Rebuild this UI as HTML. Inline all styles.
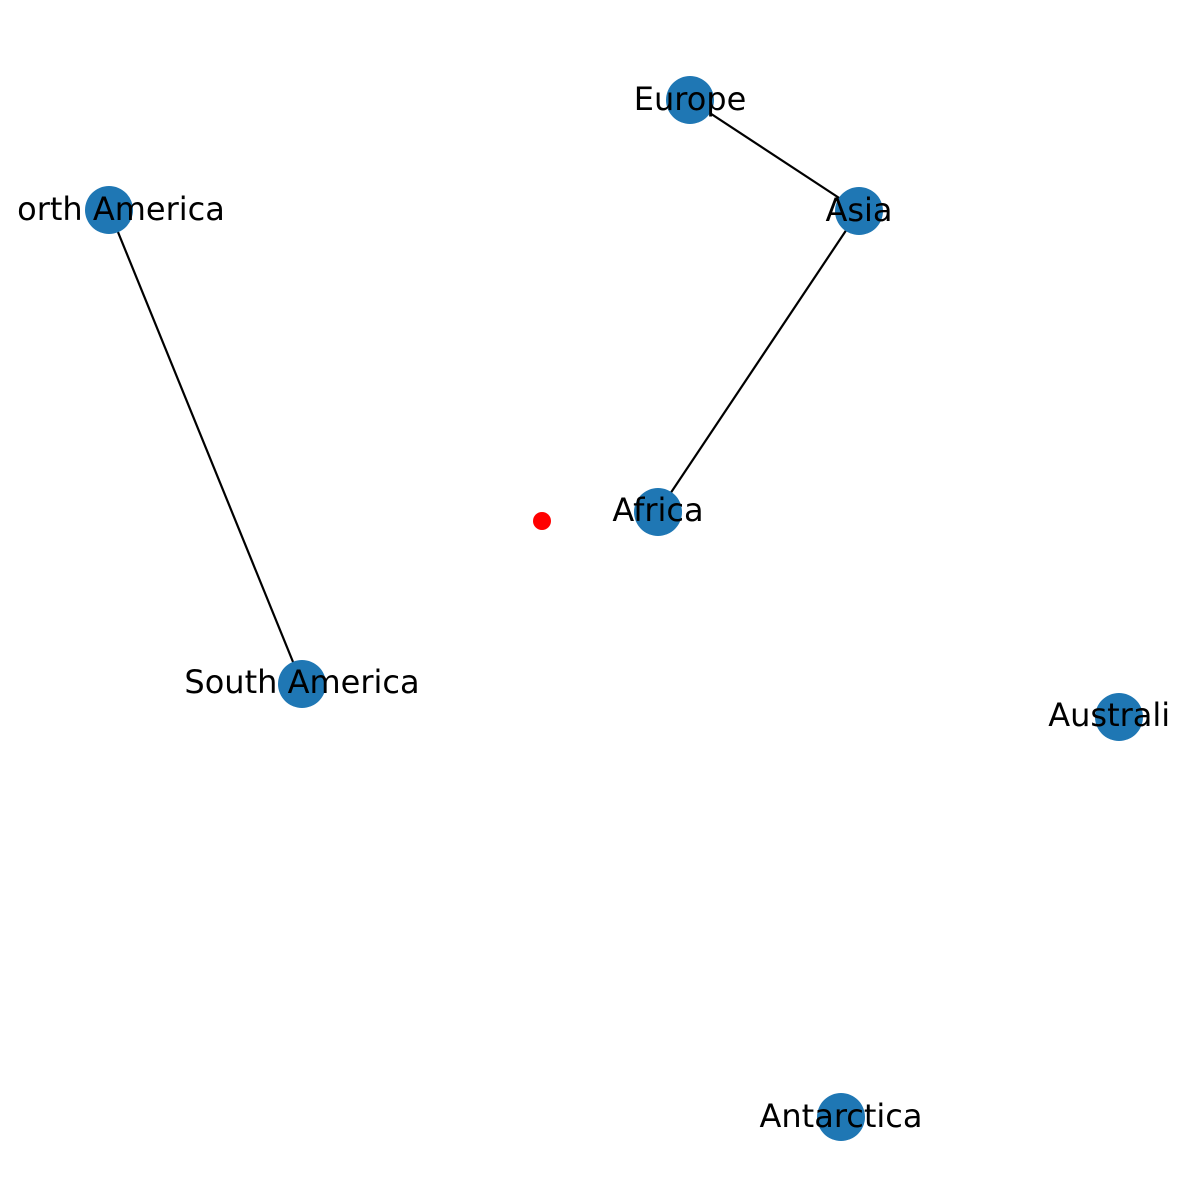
<!DOCTYPE html>
<html><head><style>html,body{margin:0;padding:0;background:#fff;}svg{display:block}</style></head>
<body>
<svg width="1190" height="1190" viewBox="0 0 1190 1190" xmlns="http://www.w3.org/2000/svg">
<defs><clipPath id="c"><rect x="17" y="0" width="1154" height="1190"/></clipPath></defs>
<g clip-path="url(#c)">
<g stroke="#000" stroke-width="2.2">
<line x1="690" y1="100" x2="859" y2="211"/>
<line x1="859" y1="211" x2="658" y2="512"/>
<line x1="109" y1="210" x2="302" y2="684"/>
</g>
<g fill="#1f77b4">
<circle cx="690" cy="100" r="24"/>
<circle cx="859" cy="211" r="24"/>
<circle cx="109" cy="210" r="24"/>
<circle cx="658" cy="512" r="24"/>
<circle cx="302" cy="684" r="24"/>
<circle cx="1119" cy="717" r="24"/>
<circle cx="841" cy="1117" r="24"/>
</g>
<circle cx="542" cy="521" r="9" fill="#ff0000"/>
<g font-family="DejaVu Sans, sans-serif" font-size="32" text-anchor="middle" dominant-baseline="central" fill="#000">
<text x="690" y="99">Europe</text>
<text x="859" y="210">Asia</text>
<text x="109" y="209">North America</text>
<text x="658" y="510">Africa</text>
<text x="302" y="682">South America</text>
<text x="1119" y="715">Australia</text>
<text x="841" y="1116">Antarctica</text>
</g>
</g>
</svg>
</body></html>
